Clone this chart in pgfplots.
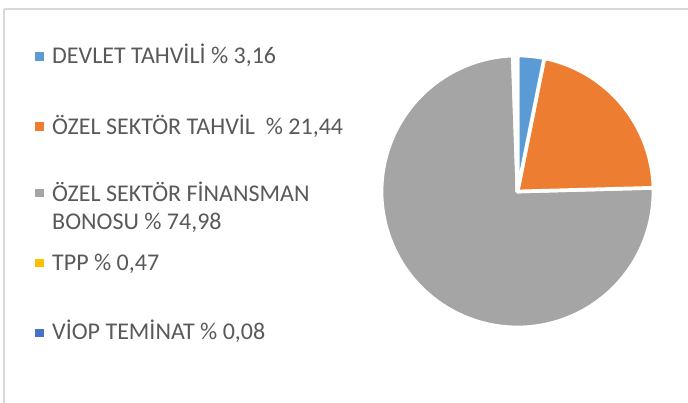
\documentclass[border=0pt]{standalone}
\usepackage{pgfplots}
\pgfplotsset{compat=1.18}
\usepackage{pgfplotstable}
\usepackage{fontspec}
\setmainfont{Carlito}
\definecolor{cA}{HTML}{5B9BD5}
\definecolor{cB}{HTML}{ED7D31}
\definecolor{cC}{HTML}{A5A5A5}
\definecolor{cD}{HTML}{FFC000}
\definecolor{cE}{HTML}{4472C4}
\definecolor{txt}{HTML}{595959}
\definecolor{frame}{HTML}{D9D9D9}
\pgfplotstableread{
v
3.16
21.44
74.98
0.47
0.08
}\piedata
\pgfplotstablegetelem{0}{v}\of\piedata\let\vA\pgfplotsretval%
\pgfplotstablegetelem{1}{v}\of\piedata\let\vB\pgfplotsretval%
\pgfplotstablegetelem{2}{v}\of\piedata\let\vC\pgfplotsretval%
\pgfplotstablegetelem{3}{v}\of\piedata\let\vD\pgfplotsretval%
\pgfplotstablegetelem{4}{v}\of\piedata\let\vE\pgfplotsretval%
\pgfmathsetmacro\tot{\vA+\vB+\vC+\vD+\vE}%
\pgfmathsetmacro\k{360/\tot}%
\pgfmathsetmacro\tA{90}%
\pgfmathsetmacro\tB{\tA-\k*\vA}%
\pgfmathsetmacro\tC{\tB-\k*\vB}%
\pgfmathsetmacro\tD{\tC-\k*\vC}%
\pgfmathsetmacro\tE{\tD-\k*\vD}%
\pgfmathsetmacro\tF{\tE-\k*\vE}%
\def\cx{517.5}\def\cy{211.5}\def\rr{136}%
\begin{document}%
\begin{tikzpicture}
\begin{axis}[
  width=688pt, height=403pt, scale only axis,
  xmin=0, xmax=688, ymin=0, ymax=403,
  hide axis, clip=false,
  slice/.style={draw=white, line width=3.7pt, line join=round},
]
\addplot[slice, fill=cC, domain=\tD:\tC, samples=120] ({\cx+\rr*cos(x)},{\cy+\rr*sin(x)}) -- (axis cs:\cx,\cy) -- cycle;
\addplot[slice, fill=cB, domain=\tC:\tB, samples=50] ({\cx+\rr*cos(x)},{\cy+\rr*sin(x)}) -- (axis cs:\cx,\cy) -- cycle;
\addplot[slice, fill=cA, domain=\tB:\tA, samples=12] ({\cx+\rr*cos(x)},{\cy+\rr*sin(x)}) -- (axis cs:\cx,\cy) -- cycle;
\addplot[slice, fill=cD, domain=\tE:\tD, samples=4] ({\cx+\rr*cos(x)},{\cy+\rr*sin(x)}) -- (axis cs:\cx,\cy) -- cycle;
\addplot[slice, fill=cE, domain=\tF:\tE, samples=3] ({\cx+\rr*cos(x)},{\cy+\rr*sin(x)}) -- (axis cs:\cx,\cy) -- cycle;
\draw[frame, line width=2pt] (axis cs:3.7,394) -- (axis cs:688,394);
\draw[frame, line width=2pt] (axis cs:3.7,394) -- (axis cs:3.7,0);
\fill[cA] (axis cs:35.3,342.3) rectangle (axis cs:43.8,350.5);
\fill[cB] (axis cs:35.3,272.3) rectangle (axis cs:43.8,280.5);
\fill[cC] (axis cs:35.3,205.5) rectangle (axis cs:43.8,213.7);
\fill[cD] (axis cs:35.3,135.5) rectangle (axis cs:43.8,143.7);
\fill[cE] (axis cs:35.3,65.9) rectangle (axis cs:43.8,74.1);
\begin{scope}[every node/.style={anchor=base west, inner sep=0pt, text=txt, font=\fontsize{24}{28}\selectfont}]
\node at (axis cs:52,339.7) {DEVLET TAHVİLİ \% 3,16};
\node at (axis cs:52,268.5) {ÖZEL SEKTÖR TAHVİL \ \% 21,44};
\node at (axis cs:52,201.5) {ÖZEL SEKTÖR FİNANSMAN};
\node at (axis cs:52,173.5) {BONOSU \% 74,98};
\node at (axis cs:52,132) {TPP \% 0,47};
\node at (axis cs:52,63) {VİOP TEMİNAT \% 0,08};
\end{scope}
\end{axis}
\pgfresetboundingbox
\useasboundingbox (0,0) rectangle (688pt,403pt);
\end{tikzpicture}%
\end{document}
